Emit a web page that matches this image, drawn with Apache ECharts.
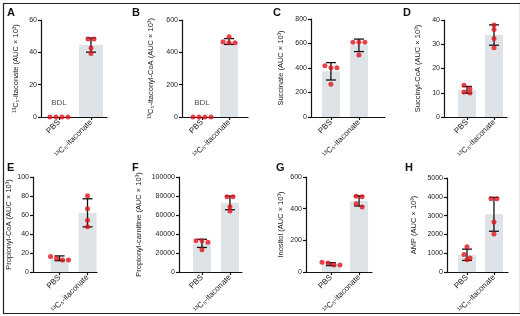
<!DOCTYPE html>
<html>
<head>
<meta charset="utf-8">
<script src="https://cdn.jsdelivr.net/npm/echarts@6/dist/echarts.min.js"></script>
<style>
html, body { margin: 0; padding: 0; background: #fff; }
#chart { width: 520px; height: 316px; }
</style>
</head>
<body>
<div id="chart"></div>
<script>
const groups = ['PBS', '¹³C₅-itaconate'];
const letters = ['A', 'B', 'C', 'D', 'E', 'F', 'G', 'H'];
const yNames = [
  '¹³C₅-itaconate (AUC × 10³)',
  '¹³C₅-itaconyl-CoA (AUC × 10³)',
  'Succinate (AUC × 10³)',
  'Succinyl-CoA (AUC × 10³)',
  'Propionyl-CoA (AUC × 10³)',
  'Propionyl-carnitine (AUC × 10³)',
  'Inositol (AUC × 10³)',
  'AMP (AUC × 10³)'
];
const yMax = [60, 600, 800, 40, 100, 100000, 600, 5000];
const yStep = [20, 200, 200, 10, 20, 20000, 200, 1000];

// individual mice, [PBS, itaconate]
const dotsA = [[0, 0, 0, 0], [48.3, 48.3, 42.7, 39.3]];
const dotsB = [[0, 0, 0, 0], [497, 465, 459, 459]];
const dotsC = [[419, 403, 403, 268], [611, 611, 611, 507]];
const dotsD = [[13.1, 11.7, 10.3, 9.9], [37.9, 36.1, 32.4, 28.6]];
const dotsE = [[16.5, 14.5, 12.8, 12.8], [80.3, 66.6, 54.5, 47.6]];
const dotsF = [[33000, 33000, 31300, 23600], [79200, 79200, 68750, 64200]];
const dotsG = [[62, 58, 45, 44], [479, 475, 431, 410]];
const dotsH = [[1350, 930, 754, 650], [3895, 3895, 2667, 2018]];

// bar height (mean) and error bar (SD); null = below detection limit
const meanA = [null, 44.5], sdA = [null, 4.4];
const meanB = [null, 467], sdB = [null, 18];
const meanC = [373, 585], sdC = [71, 51];
const meanD = [11.2, 33.8], sdD = [1.4, 4.2];
const meanE = [14.5, 62.3], sdE = [2.5, 14.8];
const meanF = [30200, 72800], sdF = [4300, 7200];
const meanG = [50, 449], sdG = [9, 32];
const meanH = [920, 3070], sdH = [300, 900];

const allDots = [dotsA, dotsB, dotsC, dotsD, dotsE, dotsF, dotsG, dotsH];
const allMean = [meanA, meanB, meanC, meanD, meanE, meanF, meanG, meanH];
const allSd = [sdA, sdB, sdC, sdD, sdE, sdF, sdG, sdH];

// panel placement: axis left x, axis end x, top y, zero y, x range, name gap, letter pos
const layout = [
  { l: 41, r: 107, t: 20, b: 117, xmin: 0.44, xmax: 2.5, gap: 21, lx: 7, ly: 7, bw: 24 },
  { l: 182, r: 248, t: 20, b: 117, xmin: 0.26, xmax: 2.7, gap: 27, lx: 132, ly: 7, bw: 18 },
  { l: 311, r: 385, t: 19, b: 117, xmin: 0.29, xmax: 2.93, gap: 26, lx: 273, ly: 7, bw: 18 },
  { l: 444, r: 507, t: 20, b: 117, xmin: 0.15, xmax: 2.48, gap: 22, lx: 403, ly: 7, bw: 18 },
  { l: 33, r: 97, t: 177, b: 273, xmin: 0.05, xmax: 2.34, gap: 18, lx: 7, ly: 162, bw: 18 },
  { l: 179, r: 242, t: 177, b: 273, xmin: 0.18, xmax: 2.43, gap: 36, lx: 132, ly: 162, bw: 18 },
  { l: 306, r: 372, t: 177, b: 273, xmin: 0.11, xmax: 2.46, gap: 21, lx: 276, ly: 162, bw: 18 },
  { l: 447, r: 508, t: 178, b: 273, xmin: 0.26, xmax: 2.52, gap: 29, lx: 405, ly: 162, bw: 18 }
];

const FONT = 'Liberation Sans, Arial, sans-serif';
const NARROW = 'Liberation Sans Narrow, Liberation Sans, sans-serif';

// spread points that sit on top of each other
function spread(vals, max) {
  const idx = vals.map((v, i) => i).sort((a, b) => vals[b] - vals[a]);
  const off = new Array(vals.length).fill(0);
  let i = 0;
  while (i < idx.length) {
    let j = i;
    while (j + 1 < idx.length && vals[idx[i]] - vals[idx[j + 1]] <= max * 0.04) j++;
    const n = j - i + 1;
    for (let k = 0; k < n; k++) off[idx[i + k]] = (k - (n - 1) / 2) * 6;
    i = j + 1;
  }
  return off;
}

function renderErr(params, api) {
  const x = api.value(0), m = api.value(1), s = api.value(2);
  const hi = api.coord([x, m + s]), lo = api.coord([x, m - s]);
  const st = { stroke: '#111', lineWidth: 1.3 };
  return {
    type: 'group',
    children: [
      { type: 'line', shape: { x1: hi[0], y1: hi[1], x2: lo[0], y2: lo[1] }, style: st },
      { type: 'line', shape: { x1: hi[0] - 5, y1: hi[1], x2: hi[0] + 5, y2: hi[1] }, style: st },
      { type: 'line', shape: { x1: lo[0] - 5, y1: lo[1], x2: lo[0] + 5, y2: lo[1] }, style: st }
    ]
  };
}

const grid = [], xAxis = [], yAxis = [], series = [], graphic = [];

layout.forEach(function (p, i) {
  grid.push({ left: p.l, top: p.t, width: p.r - p.l, height: p.b - p.t });
  xAxis.push({
    type: 'value', gridIndex: i, min: p.xmin, max: p.xmax,
    splitLine: { show: false },
    axisLine: { show: true, onZero: false, lineStyle: { color: '#111', width: 1.2 } },
    axisTick: { show: true, customValues: [1, 2], length: 3, lineStyle: { color: '#111', width: 1.2 } },
    axisLabel: {
      customValues: [1, 2], rotate: 45, fontSize: 8, margin: 4, color: '#222', fontFamily: FONT,
      formatter: function (v) { return groups[Math.round(v) - 1]; }
    }
  });
  yAxis.push({
    type: 'value', gridIndex: i, min: 0, max: yMax[i], interval: yStep[i],
    name: yNames[i], nameLocation: 'middle', nameGap: p.gap,
    nameTextStyle: { fontSize: 7.5, color: '#222', fontFamily: NARROW },
    splitLine: { show: false },
    axisLine: { show: true, lineStyle: { color: '#111', width: 1.2 } },
    axisTick: { show: true, length: 3, lineStyle: { color: '#111', width: 1.2 } },
    axisLabel: {
      fontSize: 7, margin: 4, color: '#222', fontFamily: FONT,
      formatter: function (v) { return String(v); }
    }
  });

  const means = allMean[i], sds = allSd[i], dots = allDots[i];
  const bars = [], errs = [], pts = [];
  means.forEach(function (m, g) {
    if (m !== null) {
      bars.push([g + 1, m]);
      errs.push([g + 1, m, sds[g]]);
    }
    const off = spread(dots[g], yMax[i]);
    dots[g].forEach(function (v, k) {
      pts.push({ value: [g + 1, v], symbolOffset: [off[k], 0] });
    });
  });

  series.push({
    type: 'bar', xAxisIndex: i, yAxisIndex: i, data: bars, barWidth: p.bw,
    itemStyle: { color: '#dde3e7' }, silent: true
  });
  series.push({
    type: 'custom', xAxisIndex: i, yAxisIndex: i, data: errs, renderItem: renderErr,
    encode: { x: 0, y: [1] }, z: 3, silent: true
  });
  series.push({
    type: 'scatter', xAxisIndex: i, yAxisIndex: i, data: pts, symbolSize: 5,
    itemStyle: { color: '#e0151d' }, z: 4, silent: true
  });
  if (means[0] === null) {
    series.push({
      type: 'scatter', xAxisIndex: i, yAxisIndex: i, data: [[1, 0]], symbolSize: 0,
      label: { show: true, position: 'top', distance: 10, formatter: 'BDL', fontSize: 8, color: '#222', fontFamily: FONT },
      silent: true
    });
  }

  graphic.push({
    type: 'text', left: p.lx, top: p.ly,
    style: { text: letters[i], fill: '#111', font: 'bold 11px ' + FONT }
  });
});

graphic.push({
  type: 'rect', left: 1, top: 1, z: -1,
  shape: { width: 517, height: 310 },
  style: { fill: 'none', stroke: '#222', lineWidth: 1.2 }
});

const myChart = echarts.init(document.getElementById('chart'));
myChart.setOption({
  animation: false,
  grid: grid,
  xAxis: xAxis,
  yAxis: yAxis,
  series: series,
  graphic: graphic
});
</script>
</body>
</html>
